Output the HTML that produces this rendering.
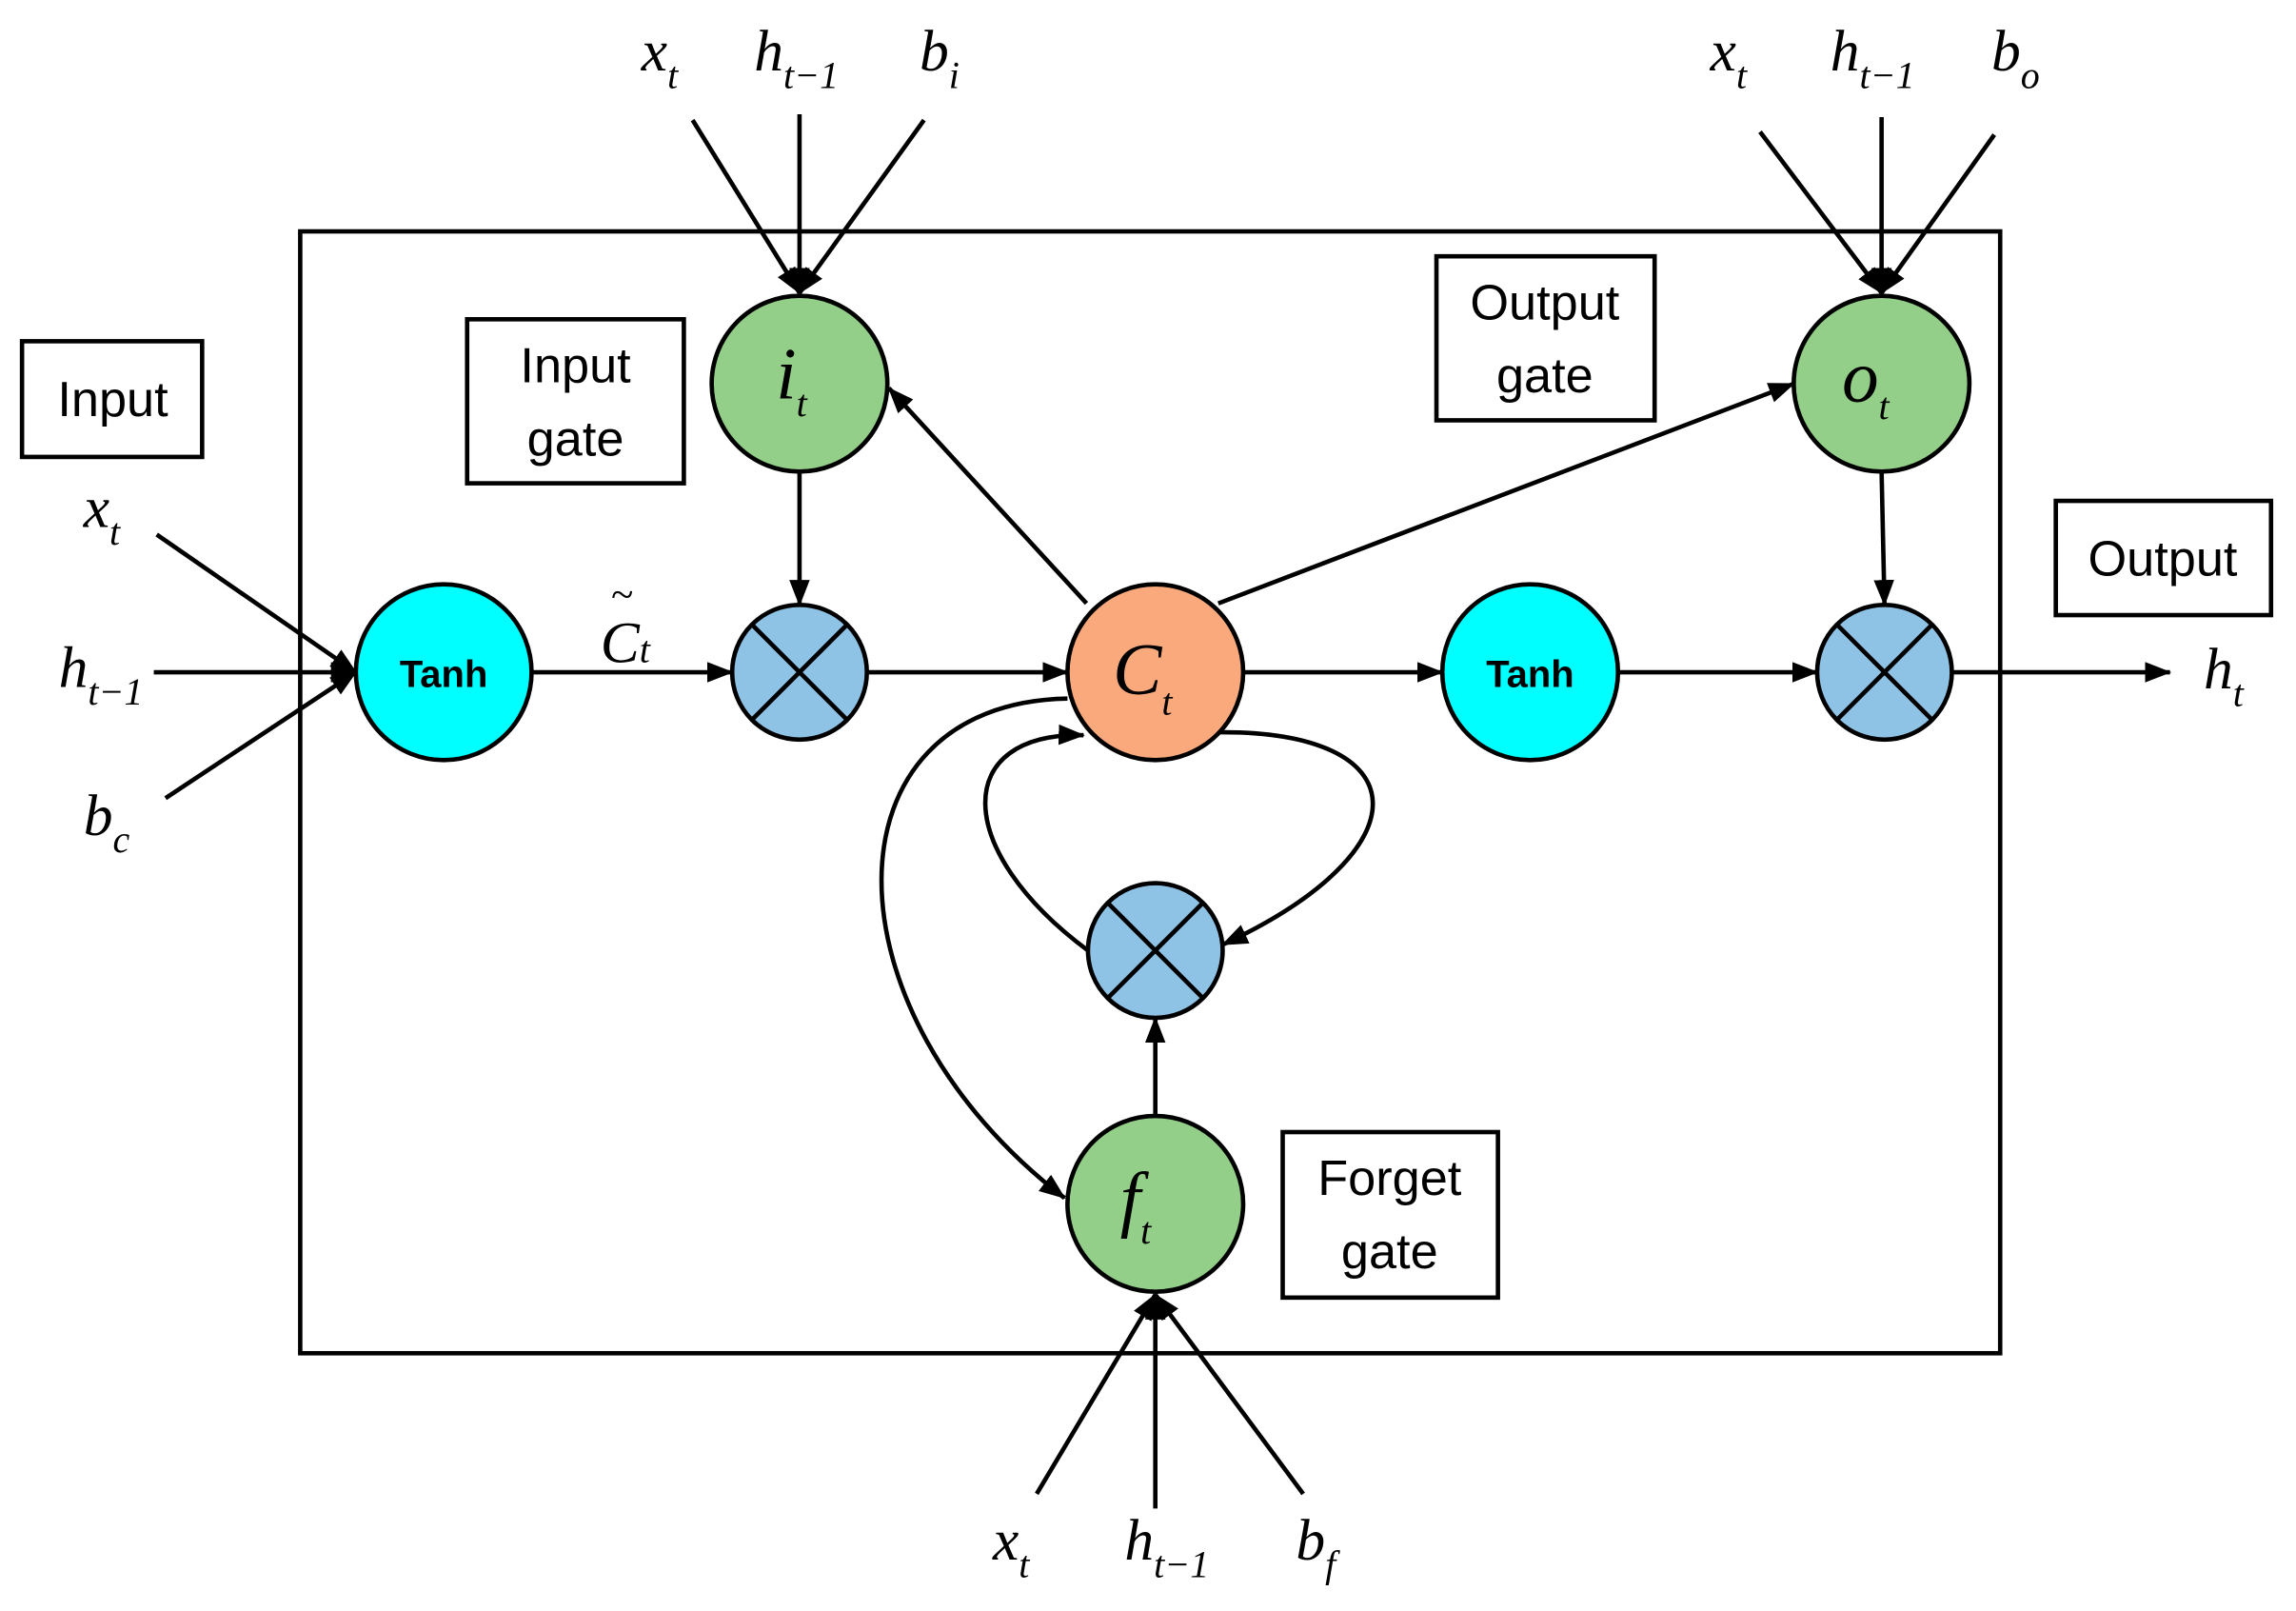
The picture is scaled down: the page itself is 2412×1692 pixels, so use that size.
<!DOCTYPE html>
<html><head><meta charset="utf-8"><style>
html,body{margin:0;padding:0;background:#fff}
svg{display:block}
.m{font-family:"Liberation Serif",serif;font-style:italic;font-size:40px;fill:#000}
.L{font-size:50px}
.s{font-size:26px}
.b{font-family:"Liberation Sans",sans-serif;font-size:34px;fill:#000}
.t{font-family:"Liberation Sans",sans-serif;font-size:26px;font-weight:bold;fill:#000}
</style></head><body>
<svg width="2412" height="1692" viewBox="0 0 1568 1100" xmlns="http://www.w3.org/2000/svg">
<defs>
<marker id="A" markerWidth="18" markerHeight="14" refX="17" refY="7" orient="auto" markerUnits="userSpaceOnUse" viewBox="0 0 18 14"><path d="M0,0 L18,7 L0,14 z" fill="#000"/></marker></defs>
<g fill="none" stroke="#000" stroke-width="3">
<rect x="205" y="158" width="1161" height="766"/>
<rect x="15" y="233" width="123" height="79"/>
<rect x="319" y="218" width="148" height="112"/>
<rect x="981" y="175" width="149" height="112"/>
<rect x="1404" y="342" width="147" height="78"/>
<rect x="876" y="773" width="147" height="113"/>
</g>
<g stroke="#000" stroke-width="3" fill="none" marker-end="url(#A)">
<line x1="107" y1="365" x2="243" y2="459"/><line x1="105" y1="459" x2="243" y2="459"/><line x1="113" y1="545" x2="243" y2="459"/>
<line x1="473" y1="82" x2="546" y2="200"/><line x1="546" y1="78" x2="546" y2="200"/><line x1="631" y1="82" x2="546" y2="200"/>
<line x1="1202" y1="90" x2="1285" y2="200"/><line x1="1285" y1="80" x2="1285" y2="200"/><line x1="1362" y1="92" x2="1285" y2="200"/>
<line x1="708" y1="1020" x2="789" y2="884"/><line x1="789" y1="1030" x2="789" y2="884"/><line x1="890" y1="1020" x2="789" y2="884"/>
<line x1="363" y1="459" x2="500" y2="459"/><line x1="592" y1="459" x2="729" y2="459"/>
<line x1="546" y1="322" x2="546" y2="413"/><line x1="742" y1="412" x2="607" y2="265"/>
<line x1="832" y1="412" x2="1225" y2="262"/><line x1="849" y1="459" x2="985" y2="459"/>
<line x1="1105" y1="459" x2="1241" y2="459"/><line x1="1285" y1="322" x2="1287" y2="413"/>
<line x1="1333" y1="459" x2="1482" y2="459"/><line x1="789" y1="762" x2="789" y2="695"/>
<path d="M729,477 C560,480 560,690 727,818"/>
<path d="M743,649 C650,580 650,500 740,502"/>
<path d="M830,500 C970,498 975,580 835,645"/>
</g>
<g stroke="#000" stroke-width="3">
<circle cx="546" cy="262" r="60" fill="#93cf88"/><circle cx="1285" cy="262" r="60" fill="#93cf88"/><circle cx="789" cy="822" r="60" fill="#93cf88"/>
<circle cx="789" cy="459" r="60" fill="#f9a97b"/>
<circle cx="303" cy="459" r="60" fill="#00ffff"/><circle cx="1045" cy="459" r="60" fill="#00ffff"/>
</g>
<g stroke="#000" stroke-width="3" fill="#8fc3e6">
<g transform="translate(546,459)"><circle r="46"/><line x1="-32" y1="-32" x2="32" y2="32"/><line x1="32" y1="-32" x2="-32" y2="32"/></g>
<g transform="translate(1287,459)"><circle r="46"/><line x1="-32" y1="-32" x2="32" y2="32"/><line x1="32" y1="-32" x2="-32" y2="32"/></g>
<g transform="translate(789,649)"><circle r="46"/><line x1="-32" y1="-32" x2="32" y2="32"/><line x1="32" y1="-32" x2="-32" y2="32"/></g>
</g>
<text class="t" x="303" y="469" text-anchor="middle">Tanh</text>
<text class="t" x="1045" y="469" text-anchor="middle">Tanh</text>
<text class="b" x="77" y="284" text-anchor="middle">Input</text>
<text class="b" x="393" y="261" text-anchor="middle">Input</text><text class="b" x="393" y="311" text-anchor="middle">gate</text>
<text class="b" x="1055" y="218" text-anchor="middle">Output</text><text class="b" x="1055" y="268" text-anchor="middle">gate</text>
<text class="b" x="1477" y="393" text-anchor="middle">Output</text>
<text class="b" x="949" y="816" text-anchor="middle">Forget</text><text class="b" x="949" y="866" text-anchor="middle">gate</text>
<text class="m L" x="530" y="272">i<tspan class="s" dy="12">t</tspan></text>
<text class="m L" x="1258" y="274">o<tspan class="s" dy="12">t</tspan></text>
<text class="m L" x="765" y="835">f<tspan class="s" dy="14">t</tspan></text>
<text class="m L" x="760" y="474">C<tspan class="s" dy="14">t</tspan></text>
<text class="m" x="410" y="452">C<tspan class="s" dy="0">t</tspan></text><text class="m" x="417" y="415" style="font-size:28px">~</text>
<text class="m" x="57" y="360">x<tspan class="s" dy="12">t</tspan></text>
<text class="m" x="40" y="469">h<tspan class="s" dy="12">t−1</tspan></text>
<text class="m" x="57" y="570">b<tspan class="s" dy="12">c</tspan></text>
<text class="m" x="438" y="48">x<tspan class="s" dy="12">t</tspan></text>
<text class="m" x="515" y="48">h<tspan class="s" dy="12">t−1</tspan></text>
<text class="m" x="628" y="48">b<tspan class="s" dy="12">i</tspan></text>
<text class="m" x="1168" y="48">x<tspan class="s" dy="12">t</tspan></text>
<text class="m" x="1250" y="48">h<tspan class="s" dy="12">t−1</tspan></text>
<text class="m" x="1360" y="48">b<tspan class="s" dy="12">o</tspan></text>
<text class="m" x="678" y="1065">x<tspan class="s" dy="12">t</tspan></text>
<text class="m" x="768" y="1065">h<tspan class="s" dy="12">t−1</tspan></text>
<text class="m" x="885" y="1065">b<tspan class="s" dy="12">f</tspan></text>
<text class="m" x="1505" y="470">h<tspan class="s" dy="12">t</tspan></text>
</svg>
</body></html>
